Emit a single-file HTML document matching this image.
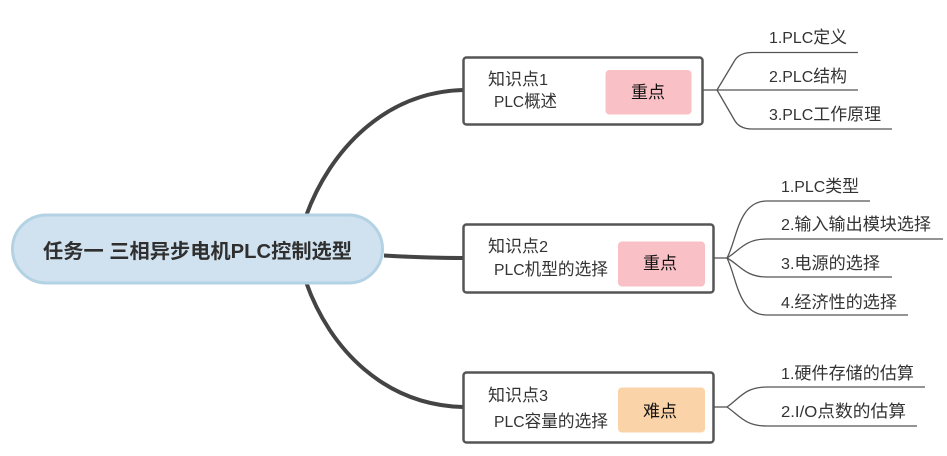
<!DOCTYPE html>
<html lang="zh">
<head>
<meta charset="utf-8">
<style>
html,body{margin:0;padding:0;background:#fff;width:947px;height:456px;overflow:hidden}
svg{display:block}
text{font-family:"Liberation Sans","Noto Sans CJK SC",sans-serif;font-size:17px;fill:#333}
tspan{font-size:16px}
.tag{font-size:17px;fill:#111}
</style>
</head>
<body>
<svg width="947" height="456" viewBox="0 0 947 456" xmlns="http://www.w3.org/2000/svg">
<rect width="947" height="456" fill="#fff"/>

<g fill="none" stroke="#444" stroke-width="4">
<path d="M306 216C330 150 385 92 463 90"/>
<path d="M384 255.500C410 257 435 258 463 258"/>
<path d="M306 282C330 350 385 405 463 407"/>
</g>

<rect x="12.500" y="215" width="370" height="68" rx="34" fill="#d0e2ef" stroke="#b3d2e4" stroke-width="3"/>
<text x="43" y="258" textLength="309" lengthAdjust="spacingAndGlyphs" style="font-size:20px;font-weight:bold;fill:#2f2f2f">任务一 三相异步电机PLC控制选型</text>

<g fill="#fff" stroke="#555" stroke-width="2.500">
<rect x="463.500" y="57.500" width="239" height="67" rx="3"/>
<rect x="463.500" y="224.500" width="250" height="68" rx="3"/>
<rect x="463.500" y="372.500" width="250" height="70" rx="3"/>
</g>

<rect x="605.500" y="70" width="86" height="44.500" rx="4" fill="#f9c0c6"/>
<rect x="618" y="241.500" width="87" height="45" rx="4" fill="#f9c0c6"/>
<rect x="618" y="387.500" width="87" height="45" rx="4" fill="#fbd3a9"/>

<g fill="none" stroke="#555" stroke-width="1.300">
<path d="M703 90H717"/>
<path d="M717 90L735 60Q740 52.500 752 52.500H858"/>
<path d="M717 90H858"/>
<path d="M717 90L735 121Q740 129 752 129H892"/>

<path d="M714 258H727"/>
<path d="M727 258C737 240 738 201 767 201H870"/>
<path d="M727 258C740 250 745 239 767 239H943"/>
<path d="M727 258C740 265 745 277 767 277H892"/>
<path d="M727 258C737 278 738 315 767 315H908"/>

<path d="M714 407H727"/>
<path d="M727 407C740 398 745 387 767 387H925"/>
<path d="M727 407C740 416 745 426 767 426H917"/>
</g>

<g lengthAdjust="spacingAndGlyphs">
<text x="488" y="85" textLength="60" lengthAdjust="spacingAndGlyphs">知识点<tspan>1</tspan></text>
<text x="494" y="107" textLength="63" lengthAdjust="spacingAndGlyphs"><tspan>PLC</tspan>概述</text>
<text class="tag" x="631" y="98" textLength="34" lengthAdjust="spacingAndGlyphs">重点</text>

<text x="488" y="252" textLength="60" lengthAdjust="spacingAndGlyphs">知识点<tspan>2</tspan></text>
<text x="494" y="275" textLength="114" lengthAdjust="spacingAndGlyphs"><tspan>PLC</tspan>机型的选择</text>
<text class="tag" x="643" y="269" textLength="34" lengthAdjust="spacingAndGlyphs">重点</text>

<text x="488" y="401" textLength="60" lengthAdjust="spacingAndGlyphs">知识点<tspan>3</tspan></text>
<text x="494" y="427" textLength="114" lengthAdjust="spacingAndGlyphs"><tspan>PLC</tspan>容量的选择</text>
<text class="tag" x="643" y="417" textLength="34" lengthAdjust="spacingAndGlyphs">难点</text>

<text x="769" y="43" textLength="78" lengthAdjust="spacingAndGlyphs"><tspan>1.PLC</tspan>定义</text>
<text x="769" y="82" textLength="78" lengthAdjust="spacingAndGlyphs"><tspan>2.PLC</tspan>结构</text>
<text x="769" y="120" textLength="112" lengthAdjust="spacingAndGlyphs"><tspan>3.PLC</tspan>工作原理</text>

<text x="781" y="192" textLength="78" lengthAdjust="spacingAndGlyphs"><tspan>1.PLC</tspan>类型</text>
<text x="781" y="230" textLength="150" lengthAdjust="spacingAndGlyphs"><tspan>2.</tspan>输入输出模块选择</text>
<text x="781" y="269" textLength="99" lengthAdjust="spacingAndGlyphs"><tspan>3.</tspan>电源的选择</text>
<text x="781" y="308" textLength="116" lengthAdjust="spacingAndGlyphs"><tspan>4.</tspan>经济性的选择</text>

<text x="781" y="379" textLength="133" lengthAdjust="spacingAndGlyphs"><tspan>1.</tspan>硬件存储的估算</text>
<text x="781" y="417" textLength="125" lengthAdjust="spacingAndGlyphs"><tspan>2.I/O</tspan>点数的估算</text>
</g>
</svg>
</body>
</html>
